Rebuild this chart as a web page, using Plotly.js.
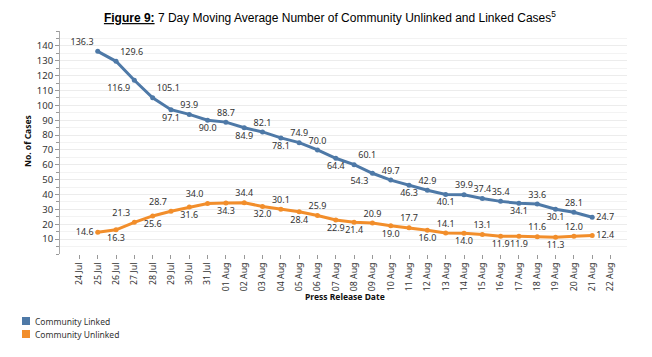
<!DOCTYPE html>
<html>
<head>
<meta charset="utf-8">
<script src="https://cdn.plot.ly/plotly-3.0.1.min.js"></script>
<style>html,body{margin:0;padding:0;background:#fff;}#chart{width:652px;height:357px;}</style>
</head>
<body>
<div id="chart"></div>
<script>
// Axis categories (press release dates)
var dates = ['24 Jul','25 Jul','26 Jul','27 Jul','28 Jul','29 Jul','30 Jul','31 Jul',
  '01 Aug','02 Aug','03 Aug','04 Aug','05 Aug','06 Aug','07 Aug','08 Aug','09 Aug',
  '10 Aug','11 Aug','12 Aug','13 Aug','14 Aug','15 Aug','16 Aug','17 Aug','18 Aug',
  '19 Aug','20 Aug','21 Aug','22 Aug'];
// Dates with data
var dataDates = dates.slice(1, 29);
// 7-day moving averages
var linked = [136.3,129.6,116.9,105.1,97.1,93.9,90.0,88.7,84.9,82.1,78.1,74.9,70.0,64.4,
  60.1,54.3,49.7,46.3,42.9,40.1,39.9,37.4,35.4,34.1,33.6,30.1,28.1,24.7];
var unlinked = [14.6,16.3,21.3,25.6,28.7,31.6,34.0,34.3,34.4,32.0,30.1,28.4,25.9,22.9,
  21.4,20.9,19.0,17.7,16.0,14.1,14.0,13.1,11.9,11.9,11.6,11.3,12.0,12.4];
var yTicks = [10,20,30,40,50,60,70,80,90,100,110,120,130,140];
var seriesNames = ['Community Linked', 'Community Unlinked'];

var linkedPos = ['top left','top right','bottom left','top right','bottom center','top center',
  'bottom center','top center','bottom center','top center','bottom center','top center',
  'top center','bottom center','top right','bottom left','top center','bottom center',
  'top center','bottom center','top center','top center','top center','bottom center',
  'top center','bottom center','top center','middle right'];
var unlinkedPos = ['middle left','bottom center','top left','bottom center','top left','bottom center',
  'top left','bottom center','top center','bottom center','top center','bottom center',
  'top center','bottom center','bottom center','top center','bottom center','top center',
  'bottom center','top center','bottom center','top center','bottom center','bottom center',
  'top center','bottom center','top center','middle right'];

var BLUE = '#4E79A7', ORANGE = '#F28E2B';
var FONT = 'Noto Sans, DejaVu Sans, sans-serif';
var labelFont = {family: FONT, size: 9, color: '#333'};

var traces = [
  {x: dataDates, y: linked, type: 'scatter', mode: 'lines+markers+text', name: seriesNames[0],
   line: {color: BLUE, width: 3}, marker: {color: BLUE, size: 5},
   text: linked.map(function(v){return v.toFixed(1);}), textposition: linkedPos,
   textfont: labelFont, showlegend: false, cliponaxis: false},
  {x: dataDates, y: unlinked, type: 'scatter', mode: 'lines+markers+text', name: seriesNames[1],
   line: {color: ORANGE, width: 3}, marker: {color: ORANGE, size: 5},
   text: unlinked.map(function(v){return v.toFixed(1);}), textposition: unlinkedPos,
   textfont: labelFont, showlegend: false, cliponaxis: false}
];

// Plot area in pixels: l=60, t=31, w=567, h=223
function px(x){ return (x - 60) / 567; }
function py(y){ return (254 - y) / 223; }

var legendShapes = [
  {type: 'rect', xref: 'paper', yref: 'paper', x0: px(22), x1: px(30), y0: py(325), y1: py(317),
   fillcolor: BLUE, line: {width: 0}},
  {type: 'rect', xref: 'paper', yref: 'paper', x0: px(22), x1: px(30), y0: py(338), y1: py(330),
   fillcolor: ORANGE, line: {width: 0}}
];

var layout = {
  width: 652, height: 357,
  margin: {l: 60, r: 25, t: 31, b: 103, autoexpand: false},
  paper_bgcolor: '#fff', plot_bgcolor: '#fff',
  showlegend: false,
  font: {family: FONT, size: 9.5, color: '#333'},
  title: {text: '<b><u>Figure 9:</u></b> 7 Day Moving Average Number of Community Unlinked and Linked Cases<sup>5</sup>',
          font: {family: 'Liberation Sans, Arial, sans-serif', size: 12, color: '#000'},
          x: 0.506, xanchor: 'center', y: 0.95, yanchor: 'middle', yref: 'container'},
  xaxis: {type: 'category', categoryarray: dates, categoryorder: 'array',
          range: [-1.06, 29.9], tickangle: -90, ticks: 'outside', ticklen: 4,
          tickcolor: '#999', showgrid: false, showline: false, zeroline: false,
          automargin: false, tickfont: {family: FONT, size: 8.8, color: '#333'}, fixedrange: true},
  yaxis: {range: [0, 150], tickvals: yTicks, ticks: 'outside', ticklen: 4, tickcolor: '#999',
          showline: true, linecolor: '#aaa', linewidth: 1, zeroline: false,
          gridcolor: '#ececec', gridwidth: 1, automargin: false,
          minor: {dtick: 5, tick0: 0, ticks: 'outside', ticklen: 3, tickcolor: '#999',
                  showgrid: true, gridcolor: '#f3f3f3'},
          tickfont: {family: FONT, size: 9.5, color: '#333'}, fixedrange: true},
  shapes: legendShapes,
  annotations: [
    {text: '<b>Press Release Date</b>', xref: 'paper', yref: 'paper', x: px(345), y: py(296),
     xanchor: 'center', yanchor: 'middle', showarrow: false, font: {family: FONT, size: 8.5, color: '#111'}},
    {text: '<b>No. of Cases</b>', xref: 'paper', yref: 'paper', x: px(27), y: py(141),
     xanchor: 'center', yanchor: 'middle', textangle: -90, showarrow: false,
     font: {family: FONT, size: 8.5, color: '#111'}},
    {text: seriesNames[0], xref: 'paper', yref: 'paper', x: px(33), y: py(321),
     xanchor: 'left', yanchor: 'middle', showarrow: false, font: {family: FONT, size: 8.5, color: '#333'}},
    {text: seriesNames[1], xref: 'paper', yref: 'paper', x: px(33), y: py(334),
     xanchor: 'left', yanchor: 'middle', showarrow: false, font: {family: FONT, size: 8.5, color: '#333'}}
  ]
};

Plotly.newPlot('chart', traces, layout, {displayModeBar: false, staticPlot: true});
</script>
</body>
</html>
